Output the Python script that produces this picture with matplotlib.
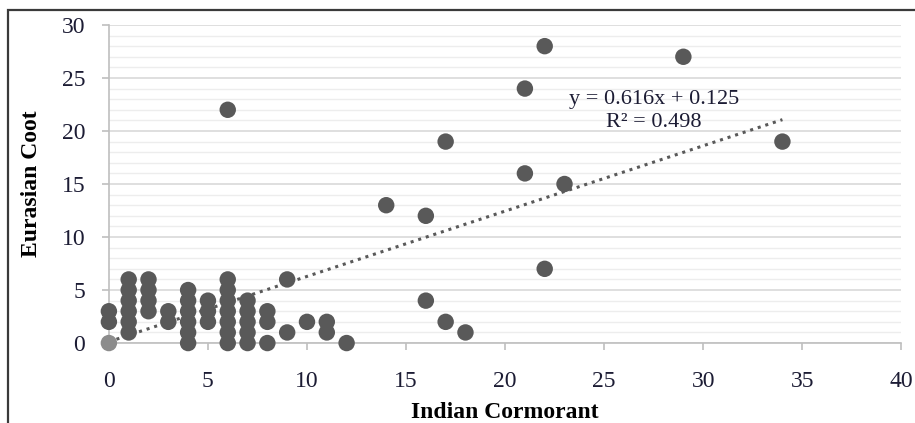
import matplotlib.pyplot as plt
import numpy as np
from matplotlib.patches import Rectangle
from matplotlib.ticker import MultipleLocator

plt.rcParams['font.family'] = ['Liberation Serif', 'DejaVu Serif']

# Indian Cormorant counts (x) vs Eurasian Coot counts (y)
cormorant = [0, 0,
             1, 1, 1, 1, 1, 1,
             2, 2, 2, 2,
             3, 3,
             4, 4, 4, 4, 4, 4,
             5, 5, 5,
             6, 6, 6, 6, 6, 6, 6, 6,
             7, 7, 7, 7, 7,
             8, 8, 8,
             9, 9, 10, 11, 11, 12,
             14, 16, 16, 17, 17, 18,
             21, 21, 22, 22, 23, 29, 34]
coot = [2, 3,
        1, 2, 3, 4, 5, 6,
        3, 4, 5, 6,
        2, 3,
        0, 1, 2, 3, 4, 5,
        2, 3, 4,
        0, 1, 2, 3, 4, 5, 6, 22,
        0, 1, 2, 3, 4,
        0, 2, 3,
        1, 6, 2, 1, 2, 0,
        13, 4, 12, 2, 19, 1,
        16, 24, 7, 28, 15, 27, 19]
zero_x = [0]
zero_y = [0]

slope = 0.616
intercept = 0.125
r2 = 0.498

fig = plt.figure(figsize=(9.15, 4.23), dpi=100)
ax = fig.add_axes([0.119, 0.189, 0.866, 0.752])

ax.set_xlim(0, 40)
ax.set_ylim(0, 30)
ax.xaxis.set_major_locator(MultipleLocator(5))
ax.yaxis.set_major_locator(MultipleLocator(5))
ax.yaxis.set_minor_locator(MultipleLocator(1))

ax.grid(axis='y', which='major', color='#d9d9d9', lw=1.2, zorder=0)
ax.grid(axis='y', which='minor', color='#ededed', lw=1.0, zorder=0)
ax.set_axisbelow(True)

for s in ['top', 'right']:
    ax.spines[s].set_visible(False)
for s in ['left', 'bottom']:
    ax.spines[s].set_color('#bfbfbf')
    ax.spines[s].set_linewidth(1.2)

ax.tick_params(axis='both', which='major', length=5, width=1.2, color='#bfbfbf',
               labelsize=17, labelcolor='#1c1c34')
ax.tick_params(axis='y', which='minor', length=0)
ax.tick_params(axis='x', pad=15)
ax.tick_params(axis='y', pad=12)

# trendline
tx = np.array([0, max(cormorant)])
ax.plot(tx, slope * tx + intercept, ls=(0, (1, 1.6)), color='#595959', lw=2.2, zorder=2)

ax.scatter(cormorant, coot, s=140, color='#595959', edgecolors='none', zorder=3, clip_on=False)
ax.scatter(zero_x, zero_y, s=140, color='#8c8c8c', edgecolors='none', zorder=3, clip_on=False)

ax.text(27.5, 23.0, f'y = {slope}x + {intercept}', ha='center', va='center',
        fontsize=16, color='#1c1c34')
ax.text(27.5, 20.8, f'R² = {r2}', ha='center', va='center',
        fontsize=16, color='#1c1c34')

ax.set_xlabel('Indian Cormorant', fontsize=17, fontweight='bold', labelpad=7)
ax.set_ylabel('Eurasian Coot', fontsize=17, fontweight='bold')
ax.yaxis.set_label_coords(-0.085, 0.5)

# outer chart border
fig.add_artist(Rectangle((0.0087, -0.5), 2, 0.9775 + 0.5, transform=fig.transFigure,
                         fill=False, edgecolor='#3a3a3a', lw=1.6))

fig.savefig('out.png', dpi=100)
